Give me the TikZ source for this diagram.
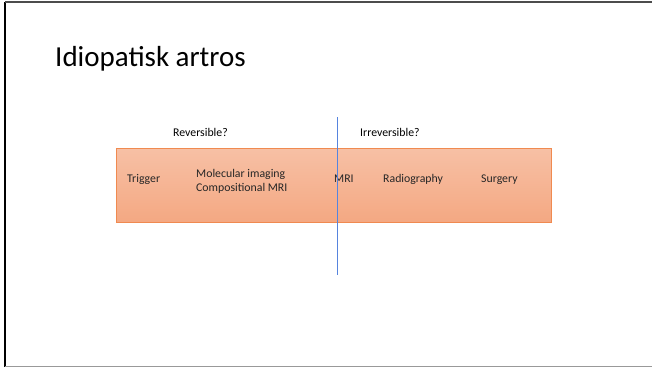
\documentclass[tikz,border=0pt]{standalone}
\usepackage{fontspec}
\setmainfont{Carlito}
\usetikzlibrary{
    positioning,                      % right=of, below=of, etc.
    calc                              % aritmetica de coordenadas
}
\definecolor{bandtop}{RGB}{247,192,165}
\definecolor{bandbottom}{RGB}{244,168,130}
\definecolor{bandedge}{RGB}{240,138,80}
\definecolor{dividerblue}{RGB}{86,132,222}
\tikzset{
    band/.style={
        rectangle, draw=bandedge, line width=1pt,
        top color=bandtop, bottom color=bandbottom,
        minimum width=435pt, minimum height=74pt, inner sep=0pt
    },
    stage/.style={
        font=\fontsize{11.8}{14}\selectfont, text=black!85,
        align=left, inner sep=0pt, anchor=base west
    },
    phase/.style={
        font=\fontsize{11.8}{14}\selectfont, inner sep=0pt, anchor=base west
    },
    divider/.style={
        draw=dividerblue, line width=1.2pt
    }
}

\begin{document}
\begin{tikzpicture}[x=1pt, y=-1pt]
    \useasboundingbox (0,0) rectangle (652,367);

    % marco de la diapositiva
    \draw[line width=2pt, black] (5,2) -- (5,367);
    \draw[line width=1.5pt, black!70] (5,2) -- (652,2);
    \draw[line width=1pt, black!40] (5,366.5) -- (652,366.5);

    % titulo
    \node[anchor=base west, inner sep=0pt, font=\fontsize{29}{34}\selectfont]
        (title) at (55,66) {Idiopatisk artros};

    % franja de etapas
    \node[band] (band) at (333.5,185.5) {};

    \node[phase] (rev)   at (173,136) {Reversible?};
    \node[phase] (irrev) at (360,136) {Irreversible?};

    \node[stage] (trigger) at (127,182) {Trigger};
    \node[stage] (molec)   at (196,191) {Molecular imaging\\Compositional MRI};
    \node[stage] (mri)     at (334,182) {MRI};
    \node[stage] (radio)   at (383,182) {Radiography};
    \node[stage] (surg)    at (481,182) {Surgery};

    % linea divisoria
    \coordinate (divtop) at (337.5,117);
    \coordinate (divbot) at (337.5,275);
    \path[divider] (divtop) -- (divbot);
\end{tikzpicture}
\end{document}
